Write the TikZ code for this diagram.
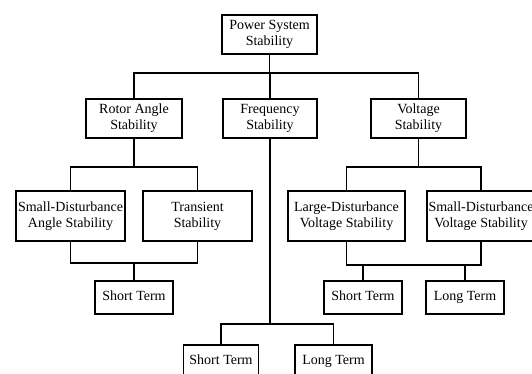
\documentclass[tikz,border=0pt]{standalone}
\usepackage{fontspec}
\setmainfont{Liberation Serif}

\begin{document}
\begin{tikzpicture}[x=1pt,y=-1pt]
        \tikzset{
            box/.style 2 args={
                draw,
                line width=1.5pt,
                align=center,
                inner sep=0pt,
                font=\fontsize{14}{16}\selectfont,
                minimum width=#1,
                minimum height=#2
            },
            term/.style={box={#1}{33pt}, text height=9.5pt, text depth=3.5pt},
            link/.style={line width=1.5pt}
        }
        \useasboundingbox (0,0) rectangle (532,374);
        \clip (0,0) rectangle (532,374);

        %caixas
        \node[box={95pt}{39pt}] (pss) at (269.5,34.5) {Power System\\Stability};

        \node[box={96pt}{39pt}] (ras) at (134,118.5) {Rotor Angle\\Stability};
        \node[box={94pt}{39pt}] (fs) at (270,118.5) {Frequency\\Stability};
        \node[box={95pt}{39pt}] (vs) at (418.5,118.5) {Voltage\\Stability};

        \node[box={109pt}{50pt}] (sdas) at (70.5,216) {Small-Disturbance\\Angle Stability};
        \node[box={109pt}{50pt}] (ts) at (197.5,216) {Transient\\Stability};
        \node[box={117pt}{50pt}] (ldvs) at (346.5,216) {Large-Disturbance\\Voltage Stability};
        \node[box={108pt}{50pt}] (sdvs) at (481,216) {Small-Disturbance\\Voltage Stability};

        \node[term=78pt] (sta) at (134,297.5) {Short Term};
        \node[term=78pt] (stv) at (363,297.5) {Short Term};
        \node[term=78pt] (ltv) at (465,297.5) {Long Term};

        \node[term=75pt] (stf) at (221,361.5) {Short Term};
        \node[term=77pt] (ltf) at (333.5,361.5) {Long Term};

        %ligacoes
        \draw[link] (pss.south) -- (pss.south |- 0,73);
        \draw[link] (ras.north) -- (ras.north |- 0,73) -| (vs.north);
        \draw[link] (fs.north) -- (fs.north |- 0,73);

        \draw[link] (ras.south) -- (ras.south |- 0,167);
        \draw[link] (sdas.north) -- (sdas.north |- 0,167) -| (ts.north);
        \draw[link] (sdas.south) -- (sdas.south |- 0,263) -| (ts.south);
        \draw[link] (sta.north) -- (sta.north |- 0,263);

        \draw[link] (vs.south) -- (vs.south |- 0,167);
        \draw[link] (ldvs.north) -- (ldvs.north |- 0,167) -| (sdvs.north);
        \draw[link] (ldvs.south) -- (ldvs.south |- 0,265) -| (sdvs.south);
        \draw[link] (stv.north) -- (stv.north |- 0,265);
        \draw[link] (ltv.north) -- (ltv.north |- 0,265);

        \draw[link] (fs.south) -- (fs.south |- 0,324);
        \draw[link] (stf.north) -- (stf.north |- 0,324) -| (ltf.north);

    \end{tikzpicture}
\end{document}
